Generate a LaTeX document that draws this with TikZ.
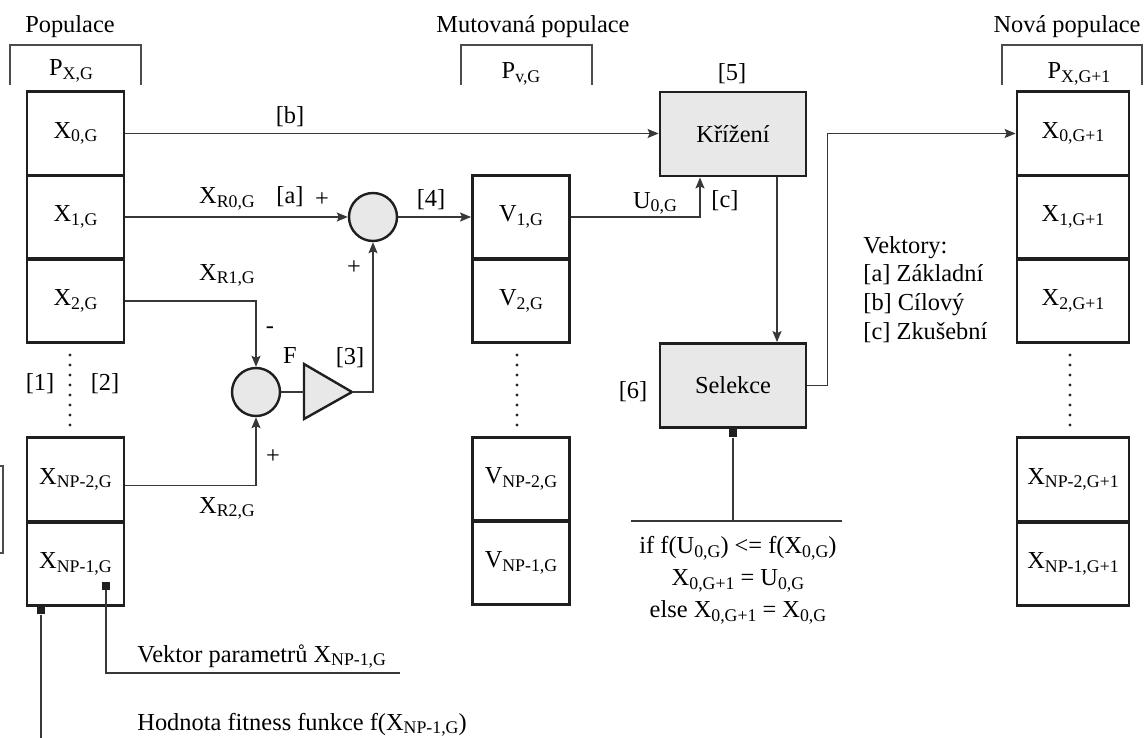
\documentclass[tikz,border=0pt]{standalone}
\usepackage{fontspec}
\setmainfont{Liberation Serif}
\usetikzlibrary{arrows.meta,calc}
\newcommand{\low}[1]{\raisebox{-1.8pt}{\fontsize{8.9}{9}\selectfont #1}}

\begin{document}
\begin{tikzpicture}[x=0.5pt,y=-0.5pt,
  font=\fontsize{12.2}{14}\selectfont,
  cell/.style={draw=black!88,line width=1.4pt,minimum width=48.5pt,minimum height=41.8pt,inner sep=0pt},
  widecell/.style={cell,minimum width=56pt},
  block/.style={cell,fill=black!9,minimum width=73pt,minimum height=42pt},
  adder/.style={circle,draw=black!88,line width=1.2pt,fill=black!9,minimum size=24pt,inner sep=0pt},
  wire/.style={draw=black!78,line width=.75pt,-{Stealth[length=5.5pt,width=4.5pt,inset=1pt]}},
  thin/.style={draw=black!78,line width=.75pt},
  brace/.style={draw=black!70,line width=.7pt},
  pin/.style={fill=black!88,minimum size=4pt,inner sep=0pt},
  label/.style={inner sep=0pt}]
\useasboundingbox (0,0) rectangle (1146,738);

% Population headings and brackets.
\node[label,anchor=base] (hpop) at (70,33) {Populace};
\node[label,anchor=base] (hmut) at (533,33) {Mutovaná populace};
\node[label,anchor=base] (hnew) at (1067,33) {Nová populace};
\draw[brace] (10,85) -- (10,45) -- (141,45) -- (141,85);
\draw[brace] (461,85) -- (461,45) -- (592,45) -- (592,85);
\draw[brace] (1002,85) -- (1002,45) -- (1142,45) -- (1142,85);
\node[label,anchor=base] (px) at (71,76) {P\low{X,G}};
\node[label,anchor=base] (pv) at (521,79) {P\low{v,G}};
\node[label,anchor=base] (pn) at (1079,79) {P\low{X,G+1}};
\draw[brace] (0,466) -- (3,466) -- (3,553) -- (0,553);

% Current population.
\node[cell] (x0) at (75.5,133.5) {X\low{0,G}};
\node[cell] (x1) at (75.5,217) {X\low{1,G}};
\node[cell] (x2) at (75.5,301) {X\low{2,G}};
\node[cell] (xnp2) at (75.5,479.5) {X\low{NP-2,G}};
\node[cell] (xnp1) at (75.5,564) {X\low{NP-1,G}};

% Mutated population.
\node[cell] (v1) at (521,217) {V\low{1,G}};
\node[cell] (v2) at (521,301) {V\low{2,G}};
\node[cell] (vnp2) at (521,479) {V\low{NP-2,G}};
\node[cell] (vnp1) at (521,563) {V\low{NP-1,G}};

% New population.
\node[widecell] (n0) at (1073,133.5) {X\low{0,G+1}};
\node[widecell] (n1) at (1073,217) {X\low{1,G+1}};
\node[widecell] (n2) at (1073,301) {X\low{2,G+1}};
\node[widecell] (nnp2) at (1073,479.5) {X\low{NP-2,G+1}};
\node[widecell] (nnp1) at (1073,564) {X\low{NP-1,G+1}};

\foreach \x in {70,517,1070}
  \foreach \y in {355,365,...,425}
    \fill[black!85] (\x,\y) circle (0.8pt);
\node[label,anchor=base] (i1) at (40,390) {[1]};
\node[label,anchor=base] (i2) at (105,390) {[2]};

% Mutation: adders and the F amplifier.
\node[adder] (add1) at (373,217) {};
\node[adder] (add2) at (256,392) {};
\filldraw[draw=black!88,line width=1.2pt,fill=black!9]
  (304,364) -- (352,392) -- (304,419) -- cycle;
\coordinate (ampin) at (304,392);
\coordinate (ampout) at (352,392);

% Crossover and selection.
\node[block] (kriz) at (733,134) {Křížení};
\node[block] (sel) at (733,385.5) {Selekce};
\node[label,anchor=base] (i5) at (732,81) {[5]};
\node[label,anchor=base] (i6) at (633,398) {[6]};

% Connections.
\draw[wire] (x0.east) -- (x0.east -| kriz.west);
\node[label,anchor=base] (lb) at (290,124) {[b]};
\draw[wire] (x1.east) -- (add1.west);
\node[label,anchor=base] (lr0) at (227,204) {X\low{R0,G}};
\node[label,anchor=base] (la) at (290,204) {[a]};
\node[label] (pa) at (322,200) {+};
\draw[wire] (add1.east) -- (v1.west);
\node[label,anchor=base] (i4) at (431,206) {[4]};
\draw[wire] (x2.east) -| (add2.north);
\node[label,anchor=base] (lr1) at (227,280) {X\low{R1,G}};
\node[label] (mb) at (270,330) {-};
\draw[wire] ([yshift=-3pt]xnp2.east) -| (add2.south);
\node[label,anchor=base] (lr2) at (227,513) {X\low{R2,G}};
\node[label] (pc) at (273,457) {+};
\draw[thin] (add2.east) -- (ampin);
\node[label,anchor=base] (lf) at (290,363) {F};
\node[label,anchor=base] (i3) at (350,364) {[3]};
\draw[wire] (ampout) -| (add1.south);
\node[label] (pb) at (354,268) {+};
\draw[wire] (v1.east) -| ([xshift=-16.5pt]kriz.south);
\node[label,anchor=base] (lu) at (655,208) {U\low{0,G}};
\node[label,anchor=base] (lc) at (725,207) {[c]};
\draw[wire] ([xshift=22pt]kriz.south) -- ([xshift=22pt]sel.north);
\draw[wire] (sel.east) -- ++(20,0) |- (n0.west);

% Selection rule.
\node[pin,anchor=north] (selpin) at (sel.south) {};
\coordinate (rule) at (733,521);
\draw[thin] (selpin) -- (rule);
\draw[thin] (631,521) -- (842,521);
\node[label,anchor=north,align=center,font=\rmfamily\fontsize{12.2}{16}\selectfont] (cond) at (738,536)
  {if f(U\low{0,G}) <= f(X\low{0,G})\\X\low{0,G+1} = U\low{0,G}\\else X\low{0,G+1} = X\low{0,G}};

% Legend.
\node[label,anchor=north west,align=left,font=\rmfamily\fontsize{12.2}{14.3}\selectfont] (legend) at (863,236)
  {Vektory:\\{}[a] Základní\\{}[b] Cílový\\{}[c] Zkušební};

% Vector and fitness annotations.
\node[pin] (vpin) at (106,586) {};
\coordinate (vend) at (400,673);
\draw[thin] (vpin) |- (vend);
\node[label,anchor=base west] (vtext) at (137,662) {Vektor parametrů X\low{NP-1,G}};
\node[pin,anchor=north] (fpin) at (41,606) {};
\coordinate (fend) at (41,738);
\draw[thin] (fpin) -- (fend);
\node[label,anchor=base west] (ftext) at (137,730) {Hodnota fitness funkce f(X\low{NP-1,G})};
\end{tikzpicture}
\end{document}
